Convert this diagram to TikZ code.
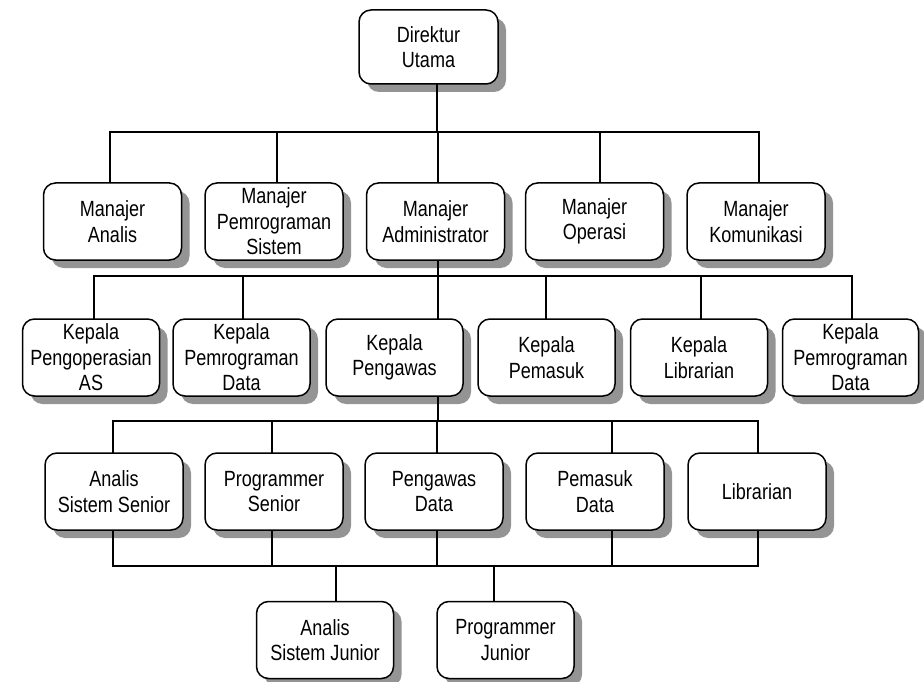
\documentclass[tikz,border=0pt]{standalone}
\usepackage{fontspec}
\setmainfont[FakeStretch=0.82]{Liberation Sans}
\usetikzlibrary{shadows}
\begin{document}
\begin{tikzpicture}[x=1pt,y=-1pt,
  unit/.style={draw=black, line width=1.5pt, rounded corners=12pt, fill=white,
    minimum width=138pt, minimum height=77pt, inner sep=0pt, align=center,
    font=\fontsize{22}{25.5}\selectfont,
    drop shadow={shadow xshift=8pt, shadow yshift=-8pt, fill=black!42, opacity=1}},
  link/.style={line width=1.5pt, line cap=rect}]
\useasboundingbox (0,0) rectangle (924,682);

% top level
\node[unit, minimum width=139pt, minimum height=74pt] (dir) at (428.5,47) {Direktur\\Utama};

% managers
\node[unit] (ma)   at (112.5,221.5) {Manajer\\Analis};
\node[unit] (mps)  at (274,221.5)   {Manajer\\Pemrograman\\Sistem};
\node[unit] (madm) at (435.5,221.5) {Manajer\\Administrator};
\node[unit] (mo)   at (594.5,221.5) {Manajer\\Operasi};
\node[unit] (mk)   at (756,221.5)   {Manajer\\Komunikasi};

% heads
\node[unit, minimum width=137pt] (kpas)  at (91,357.5)    {Kepala\\Pengoperasian\\AS};
\node[unit, minimum width=137pt] (kpd)   at (241.5,357.5) {Kepala\\Pemrograman\\Data};
\node[unit, minimum width=137pt] (kpeng) at (394.5,357.5) {Kepala\\Pengawas};
\node[unit, minimum width=137pt] (kpem)  at (546.5,357.5) {Kepala\\Pemasuk};
\node[unit, minimum width=137pt] (klib)  at (699,357.5)   {Kepala\\Librarian};
\node[unit, minimum width=136pt] (kpd2)  at (850.5,357.5) {Kepala\\Pemrograman\\Data};

% staff
\node[unit] (ass)  at (114,491.5) {Analis\\Sistem Senior};
\node[unit] (ps)   at (274,491.5) {Programmer\\Senior};
\node[unit] (pd)   at (434,491.5) {Pengawas\\Data};
\node[unit] (pemd) at (595,491.5) {Pemasuk\\Data};
\node[unit] (lib)  at (757,491.5) {Librarian};

% juniors
\node[unit, minimum width=137pt] (asj) at (325,640)   {Analis\\Sistem Junior};
\node[unit, minimum width=137pt] (pj)  at (505.5,640) {Programmer\\Junior};

% bus 1: director to managers
\coordinate (a0) at (437,132);
\coordinate (a1) at (110,132);
\coordinate (a2) at (277,132);
\coordinate (a3) at (438,132);
\coordinate (a4) at (600,132);
\coordinate (a5) at (759,132);
\draw[link] (a0 |- dir.south) -- (a0);
\draw[link] (a1) -- (a5);
\draw[link] (a1) -- (a1 |- ma.north);
\draw[link] (a2) -- (a2 |- mps.north);
\draw[link] (a3) -- (a3 |- madm.north);
\draw[link] (a4) -- (a4 |- mo.north);
\draw[link] (a5) -- (a5 |- mk.north);

% bus 2: administrator to heads
\coordinate (b0) at (438,276);
\coordinate (b1) at (94,276);
\coordinate (b2) at (243,276);
\coordinate (b3) at (546,276);
\coordinate (b4) at (701,276);
\coordinate (b5) at (852,276);
\draw[link] (b0 |- madm.south) -- (b0);
\draw[link] (b1) -- (b5);
\draw[link] (b1) -- (b1 |- kpas.north);
\draw[link] (b2) -- (b2 |- kpd.north);
\draw[link] (b0) -- (b0 |- kpeng.north);
\draw[link] (b3) -- (b3 |- kpem.north);
\draw[link] (b4) -- (b4 |- klib.north);
\draw[link] (b5) -- (b5 |- kpd2.north);

% bus 3: supervisor head to staff
\coordinate (c0) at (438,421);
\coordinate (c1) at (113,421);
\coordinate (c2) at (272,421);
\coordinate (c3) at (437,421);
\coordinate (c4) at (612,421);
\coordinate (c5) at (758,421);
\draw[link] (c0 |- kpeng.south) -- (c0);
\draw[link] (c1) -- (c5);
\draw[link] (c1) -- (c1 |- ass.north);
\draw[link] (c2) -- (c2 |- ps.north);
\draw[link] (c3) -- (c3 |- pd.north);
\draw[link] (c4) -- (c4 |- pemd.north);
\draw[link] (c5) -- (c5 |- lib.north);

% bus 4: staff to juniors
\coordinate (e1) at (113,566);
\coordinate (e2) at (272,566);
\coordinate (e3) at (437,566);
\coordinate (e4) at (612,566);
\coordinate (e5) at (758,566);
\coordinate (j1) at (336,566);
\coordinate (j2) at (494,566);
\draw[link] (e1) -- (e5);
\draw[link] (e1 |- ass.south) -- (e1);
\draw[link] (e2 |- ps.south) -- (e2);
\draw[link] (e3 |- pd.south) -- (e3);
\draw[link] (e4 |- pemd.south) -- (e4);
\draw[link] (e5 |- lib.south) -- (e5);
\draw[link] (j1) -- (j1 |- asj.north);
\draw[link] (j2) -- (j2 |- pj.north);
\end{tikzpicture}
\end{document}
